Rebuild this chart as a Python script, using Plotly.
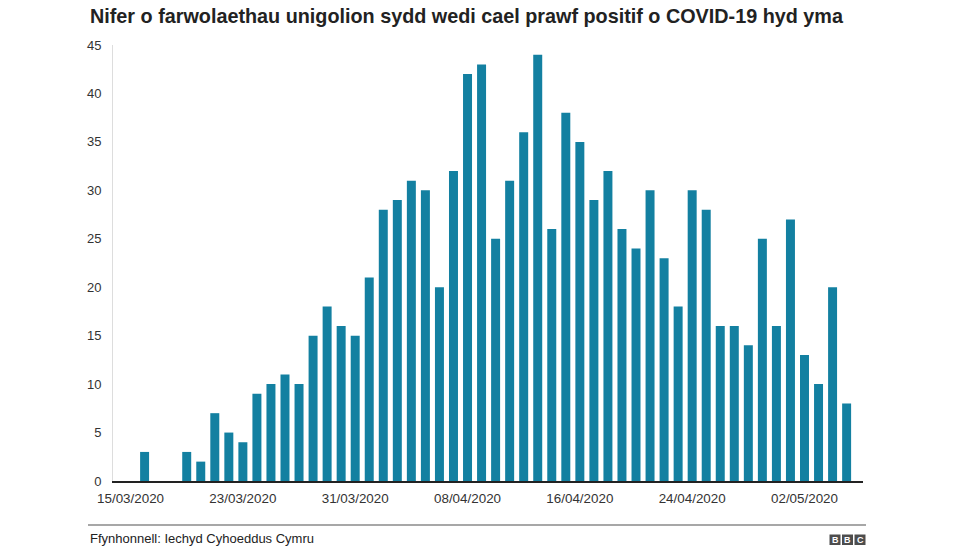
import plotly.graph_objects as go

dates = [
    "2020-03-15", "2020-03-16", "2020-03-17", "2020-03-18", "2020-03-19", "2020-03-20",
    "2020-03-21", "2020-03-22", "2020-03-23", "2020-03-24", "2020-03-25", "2020-03-26",
    "2020-03-27", "2020-03-28", "2020-03-29", "2020-03-30", "2020-03-31", "2020-04-01",
    "2020-04-02", "2020-04-03", "2020-04-04", "2020-04-05", "2020-04-06", "2020-04-07",
    "2020-04-08", "2020-04-09", "2020-04-10", "2020-04-11", "2020-04-12", "2020-04-13",
    "2020-04-14", "2020-04-15", "2020-04-16", "2020-04-17", "2020-04-18", "2020-04-19",
    "2020-04-20", "2020-04-21", "2020-04-22", "2020-04-23", "2020-04-24", "2020-04-25",
    "2020-04-26", "2020-04-27", "2020-04-28", "2020-04-29", "2020-04-30", "2020-05-01",
    "2020-05-02", "2020-05-03", "2020-05-04", "2020-05-05",
]
deaths = [
    0, 3, 0, 0, 3, 2,
    7, 5, 4, 9, 10, 11,
    10, 15, 18, 16, 15, 21,
    28, 29, 31, 30, 20, 32,
    42, 43, 25, 31, 36, 44,
    26, 38, 35, 29, 32, 26,
    24, 30, 23, 18, 30, 28,
    16, 16, 14, 25, 16, 27,
    13, 10, 20, 8,
]
tick_dates = ["2020-03-15", "2020-03-23", "2020-03-31", "2020-04-08",
              "2020-04-16", "2020-04-24", "2020-05-02"]
tick_labels = ["15/03/2020", "23/03/2020", "31/03/2020", "08/04/2020",
               "16/04/2020", "24/04/2020", "02/05/2020"]
y_ticks = [0, 5, 10, 15, 20, 25, 30, 35, 40, 45]

title_text = "Nifer o farwolaethau unigolion sydd wedi cael prawf positif o COVID-19 hyd yma"
source_text = "Ffynhonnell: Iechyd Cyhoeddus Cymru"

BAR = "#1380A1"
FONT = "Liberation Sans, Arial, Helvetica, sans-serif"

W, H = 976, 549
L, R, T, B = 113, 113, 45, 68
pw, ph = W - L - R, H - T - B


def px(x):
    return (x - L) / pw


def py(y):
    return (H - B - y) / ph


fig = go.Figure(go.Bar(
    x=dates, y=deaths, marker=dict(color=BAR, line=dict(width=0)),
    hoverinfo="x+y",
))

fig.update_layout(
    width=W, height=H,
    margin=dict(l=L, r=R, t=T, b=B, pad=0),
    paper_bgcolor="white", plot_bgcolor="white",
    bargap=0.36,
    showlegend=False,
    font=dict(family=FONT, color="#333333", size=13),
)

fig.update_xaxes(
    type="date",
    range=["2020-03-13 18:00", "2020-05-06 04:00"],
    tickmode="array", tickvals=tick_dates, ticktext=tick_labels,
    tickfont=dict(size=13.4, color="#333333"),
    ticks="outside", ticklen=4, tickcolor="rgba(0,0,0,0)",
    showgrid=False, zeroline=False,
    showline=True, linecolor="#222222", linewidth=2,
)
fig.update_yaxes(
    range=[0, 45],
    tickmode="array", tickvals=y_ticks,
    tickfont=dict(size=13, color="#333333"),
    ticks="outside", ticklen=8, tickcolor="rgba(0,0,0,0)",
    showgrid=False, zeroline=False,
    showline=True, linecolor="#dddddd", linewidth=1,
)

annotations = [
    dict(text="<b>" + title_text + "</b>", xref="paper", yref="paper",
         x=px(88), y=py(16), xanchor="left", yanchor="middle",
         showarrow=False, font=dict(size=19.8, color="#222222", family=FONT)),
    dict(text=source_text, xref="paper", yref="paper",
         x=px(88), y=py(538), xanchor="left", yanchor="middle",
         showarrow=False, font=dict(size=13, color="#222222", family=FONT)),
]
shapes = [
    dict(type="line", xref="paper", yref="paper",
         x0=px(88), x1=px(866), y0=py(525), y1=py(525),
         line=dict(color="#8a8a8a", width=1.5)),
]
# BBC logo blocks
box_w, gap = 11, 1.5
x_start = 829.5
for i, letter in enumerate(["B", "B", "C"]):
    x0 = x_start + i * (box_w + gap)
    shapes.append(dict(type="rect", xref="paper", yref="paper",
                       x0=px(x0), x1=px(x0 + box_w), y0=py(545), y1=py(534.5),
                       fillcolor="#4d4d4d", line=dict(width=0)))
    annotations.append(dict(text="<b>" + letter + "</b>", xref="paper", yref="paper",
                            x=px(x0 + box_w / 2), y=py(540), xanchor="center",
                            yanchor="middle", showarrow=False,
                            font=dict(size=9, color="white", family=FONT)))

fig.update_layout(annotations=annotations, shapes=shapes)

fig.write_html(
    "out.html",
    config={"displayModeBar": False},
    post_script="document.body.style.margin='0';document.body.style.overflow='hidden';",
)
